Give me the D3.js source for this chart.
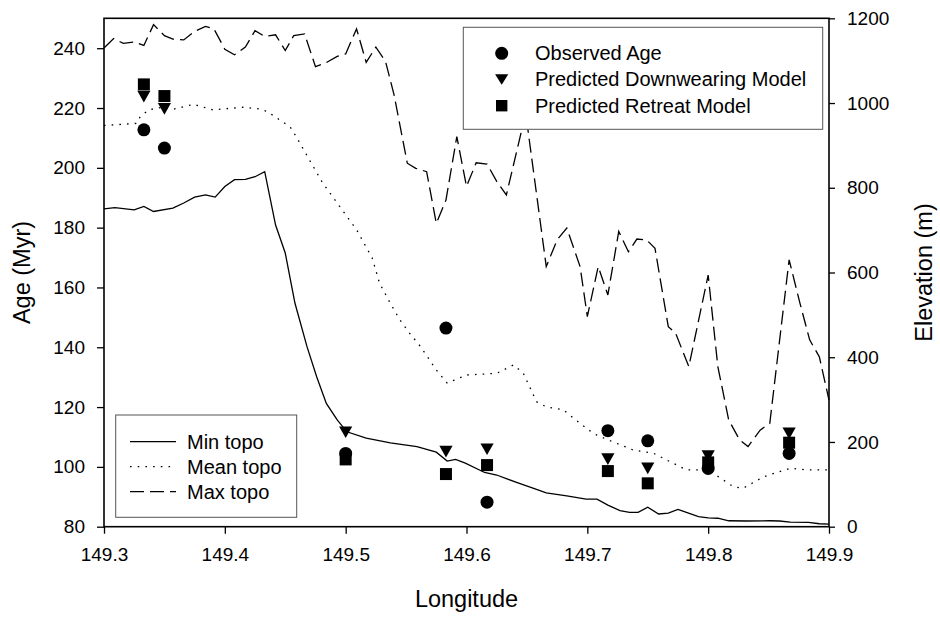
<!DOCTYPE html>
<html>
<head>
<meta charset="utf-8">
<script src="https://cdn.jsdelivr.net/npm/d3@7"></script>
<style>
  body { margin: 0; background: #fff; }
  svg { display: block; font-family: "Liberation Sans", Arial, sans-serif; }
</style>
</head>
<body>
<div id="chart"></div>
<script>
// tick values
const lonTicks = [149.3, 149.4, 149.5, 149.6, 149.7, 149.8, 149.9];
const ageTicks = [80, 100, 120, 140, 160, 180, 200, 220, 240];
const elevTicks = [0, 200, 400, 600, 800, 1000, 1200];

// sample ages (Myr)
const sampleLon = [149.333, 149.35, 149.5, 149.583, 149.617, 149.717, 149.75, 149.8, 149.867];
const observedAge = [212.7, 206.6, 104.5, 146.4, 88.2, 112.1, 108.7, 99.5, 104.5];
const downwearingAge = [223.8, 219.7, 111.6, 105.1, 105.9, 102.6, 99.5, 103.6, 111.2];
const retreatAge = [227.9, 224.0, 102.5, 97.6, 100.6, 98.6, 94.5, 101.5, 108.1];

// topography profiles (m)
const minTopoLon = [149.300, 149.309, 149.325, 149.333, 149.341, 149.357, 149.366, 149.375, 149.384, 149.392,
  149.400, 149.408, 149.417, 149.425, 149.433, 149.442, 149.450, 149.458, 149.468, 149.476,
  149.484, 149.493, 149.501, 149.517, 149.537, 149.559, 149.575, 149.584, 149.591, 149.599,
  149.615, 149.625, 149.642, 149.655, 149.666, 149.683, 149.699, 149.708, 149.717, 149.727,
  149.735, 149.742, 149.750, 149.759, 149.767, 149.775, 149.782, 149.792, 149.800, 149.808,
  149.817, 149.832, 149.851, 149.859, 149.868, 149.883, 149.892, 149.900];
const minTopoElev = [750, 753, 748, 756, 744, 752, 764, 778, 783, 778,
  803, 819, 820, 826, 838, 712, 646, 528, 425, 354,
  291, 252, 224, 209, 198, 189, 176, 155, 159, 150,
  128, 122, 104, 91, 80, 73, 65, 65, 51, 38,
  34, 34, 46, 30, 32, 41, 34, 24, 21, 20,
  14, 13.5, 14, 13.5, 11, 10, 7, 6];

const meanTopoLon = [149.300, 149.327, 149.330, 149.337, 149.348, 149.357, 149.374, 149.390, 149.415, 149.429,
  149.435, 149.454, 149.459, 149.470, 149.481, 149.495, 149.509, 149.522, 149.528, 149.537,
  149.545, 149.552, 149.562, 149.575, 149.584, 149.600, 149.625, 149.639, 149.647, 149.658,
  149.666, 149.680, 149.694, 149.705, 149.717, 149.738, 149.755, 149.766, 149.782, 149.800,
  149.821, 149.829, 149.846, 149.868, 149.882, 149.900];
const meanTopoElev = [947, 952, 968, 984, 990, 985, 997, 984, 990, 986,
  980, 944, 921, 866, 811, 756, 701, 634, 575, 527,
  488, 460, 425, 370, 339, 358, 362, 382, 362, 295,
  283, 276, 244, 220, 205, 181, 173, 157, 134, 134,
  94, 91, 118, 138, 134, 134];

const maxTopoLon = [149.300, 149.308, 149.316, 149.325, 149.333, 149.341, 149.350, 149.357, 149.366, 149.375,
  149.384, 149.391, 149.400, 149.408, 149.417, 149.425, 149.433, 149.442, 149.450, 149.457,
  149.466, 149.475, 149.483, 149.493, 149.500, 149.509, 149.517, 149.525, 149.533, 149.540,
  149.551, 149.558, 149.567, 149.575, 149.583, 149.592, 149.600, 149.608, 149.617, 149.625,
  149.633, 149.649, 149.666, 149.675, 149.683, 149.694, 149.700, 149.709, 149.717, 149.726,
  149.734, 149.741, 149.749, 149.756, 149.767, 149.773, 149.784, 149.800, 149.808, 149.817,
  149.826, 149.833, 149.843, 149.851, 149.867, 149.876, 149.884, 149.892, 149.900];
const maxTopoElev = [1130, 1152, 1141, 1144, 1136, 1185, 1159, 1151, 1149, 1169,
  1181, 1175, 1127, 1114, 1132, 1171, 1157, 1161, 1124, 1159,
  1163, 1086, 1094, 1110, 1116, 1175, 1096, 1132, 1098, 1020,
  858, 846, 838, 716, 771, 921, 803, 859, 856, 815,
  783, 976, 614, 677, 705, 614, 496, 614, 547, 697,
  649, 679, 677, 657, 472, 457, 378, 594, 378, 252,
  205, 189, 228, 244, 630, 527, 441, 401, 299];

const symbolLabels = ['Observed Age', 'Predicted Downwearing Model', 'Predicted Retreat Model'];
const lineLabels = ['Min topo', 'Mean topo', 'Max topo'];

const WIDTH = 940, HEIGHT = 617;
const MARGIN = { left: 104, right: 111, top: 18.3, bottom: 90.3 };
const innerW = WIDTH - MARGIN.left - MARGIN.right;
const innerH = HEIGHT - MARGIN.top - MARGIN.bottom;

const svg = d3.select('#chart').append('svg')
  .attr('width', WIDTH)
  .attr('height', HEIGHT);

svg.append('rect').attr('width', WIDTH).attr('height', HEIGHT).attr('fill', '#fff');

const g = svg.append('g')
  .attr('transform', `translate(${MARGIN.left},${MARGIN.top})`);

const x = d3.scaleLinear().domain([149.3, 149.9]).range([0, innerW]);
const yAge = d3.scaleLinear().domain([80, 250]).range([innerH, 0]);
const yElev = d3.scaleLinear().domain([0, 1200]).range([innerH, 0]);

// axes
const styleAxis = sel => {
  sel.select('.domain').remove();
  sel.selectAll('.tick line').attr('stroke', '#000').attr('stroke-width', 1.3);
  sel.selectAll('.tick text').attr('fill', '#000').style('font-size', '19px')
    .style('font-family', '"Liberation Sans", Arial, sans-serif');
};

g.append('g')
  .attr('transform', `translate(0,${innerH})`)
  .call(d3.axisBottom(x).tickValues(lonTicks).tickFormat(d3.format('.1f'))
    .tickSize(7).tickSizeOuter(0).tickPadding(14))
  .call(styleAxis);

g.append('g')
  .call(d3.axisLeft(yAge).tickValues(ageTicks).tickFormat(d3.format('d'))
    .tickSize(7).tickSizeOuter(0).tickPadding(12))
  .call(styleAxis);

g.append('g')
  .attr('transform', `translate(${innerW},0)`)
  .call(d3.axisRight(yElev).tickValues(elevTicks).tickFormat(d3.format('d'))
    .tickSize(6).tickSizeOuter(0).tickPadding(12))
  .call(styleAxis);

// topo lines
const topoLine = d3.line().x(d => x(d[0])).y(d => yElev(d[1]));
const series = [
  { lon: minTopoLon, elev: minTopoElev, dash: null },
  { lon: meanTopoLon, elev: meanTopoElev, dash: '1.6,6.1' },
  { lon: maxTopoLon, elev: maxTopoElev, dash: '14,6' }
];
series.forEach(s => {
  g.append('path')
    .datum(s.lon.map((v, i) => [v, s.elev[i]]))
    .attr('d', topoLine)
    .attr('fill', 'none')
    .attr('stroke', '#000')
    .attr('stroke-width', 1.3)
    .attr('stroke-dasharray', s.dash);
});

// markers
const triPath = 'M-6.6,-5.8L6.6,-5.8L0,5.8Z';
const sqPath = 'M-6,-6L6,-6L6,6L-6,6Z';

g.selectAll('.sq').data(sampleLon).join('path')
  .attr('class', 'sq')
  .attr('d', sqPath)
  .attr('transform', (d, i) => `translate(${x(d)},${yAge(retreatAge[i])})`)
  .attr('fill', '#000');

g.selectAll('.tri').data(sampleLon).join('path')
  .attr('class', 'tri')
  .attr('d', triPath)
  .attr('transform', (d, i) => `translate(${x(d)},${yAge(downwearingAge[i])})`)
  .attr('fill', '#000');

g.selectAll('.obs').data(sampleLon).join('circle')
  .attr('class', 'obs')
  .attr('cx', d => x(d))
  .attr('cy', (d, i) => yAge(observedAge[i]))
  .attr('r', 6.5)
  .attr('fill', '#000');

// frame
g.append('rect')
  .attr('width', innerW).attr('height', innerH)
  .attr('fill', 'none').attr('stroke', '#000').attr('stroke-width', 1.6);

// symbol legend (top right)
const leg1 = svg.append('g').attr('transform', 'translate(463.3,27.3)');
leg1.append('rect').attr('width', 359.4).attr('height', 102)
  .attr('fill', '#fff').attr('stroke', '#555').attr('stroke-width', 1);
symbolLabels.forEach((label, i) => {
  const cy = 26 + i * 26.2;
  const row = leg1.append('g').attr('transform', `translate(38.4,${cy})`);
  if (i === 0) row.append('circle').attr('r', 6.5).attr('fill', '#000');
  if (i === 1) row.append('path').attr('d', 'M-6.6,-5.3L6.6,-5.3L0,5.3Z').attr('fill', '#000');
  if (i === 2) row.append('path').attr('d', 'M-5.7,-5.7L5.7,-5.7L5.7,5.7L-5.7,5.7Z').attr('fill', '#000');
  leg1.append('text')
    .attr('x', 71.7).attr('y', cy + 7)
    .style('font-size', '20px')
    .text(label);
});

// line legend (bottom left)
const leg2 = svg.append('g').attr('transform', 'translate(115.7,415)');
leg2.append('rect').attr('width', 181).attr('height', 102.3)
  .attr('fill', '#fff').attr('stroke', '#555').attr('stroke-width', 1);
lineLabels.forEach((label, i) => {
  const cy = 26.7 + i * 25;
  leg2.append('line')
    .attr('x1', 14.3).attr('x2', 60.3).attr('y1', cy).attr('y2', cy)
    .attr('stroke', '#000').attr('stroke-width', 1.3)
    .attr('stroke-dasharray', series[i].dash);
  leg2.append('text')
    .attr('x', 71.3).attr('y', cy + 7)
    .style('font-size', '20px')
    .text(label);
});

// axis titles
svg.append('text')
  .attr('transform', `translate(${MARGIN.left + innerW / 2},606.7)`)
  .attr('text-anchor', 'middle')
  .style('font-size', '23.5px')
  .text('Longitude');

svg.append('text')
  .attr('transform', `translate(30,${MARGIN.top + innerH / 2}) rotate(-90)`)
  .attr('text-anchor', 'middle')
  .style('font-size', '23.5px')
  .text('Age (Myr)');

svg.append('text')
  .attr('transform', `translate(932,${MARGIN.top + innerH / 2}) rotate(-90)`)
  .attr('text-anchor', 'middle')
  .style('font-size', '23.5px')
  .text('Elevation (m)');
</script>
</body>
</html>
